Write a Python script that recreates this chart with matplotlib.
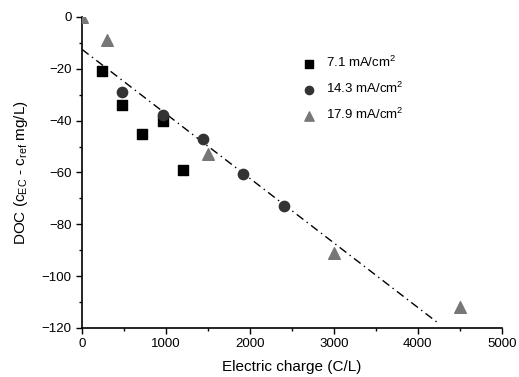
import numpy as np
import matplotlib
matplotlib.use('Agg')
import matplotlib.pyplot as plt

plt.rcParams['font.family'] = ['Liberation Sans', 'DejaVu Sans']
plt.rcParams['mathtext.fontset'] = 'custom'
plt.rcParams['mathtext.rm'] = 'Liberation Sans'
plt.rcParams['mathtext.it'] = 'Liberation Sans:italic'
plt.rcParams['mathtext.default'] = 'regular'

# data
charge_71 = [240, 480, 720, 960, 1200]
doc_71 = [-21, -34, -45, -40, -59]
charge_143 = [480, 960, 1440, 1920, 2400]
doc_143 = [-29, -38, -47, -60.5, -73]
charge_179 = [0, 300, 1500, 3000, 4500]
doc_179 = [0, -9, -53, -91, -112]

# trend line
fit_intercept = -12.5
fit_slope = -0.0249
fit_xmax = 4250

fig = plt.figure(figsize=(5.19, 3.77), dpi=100)
ax = fig.add_axes([0.158, 0.130, 0.809, 0.825])

ax.scatter(charge_71, doc_71, marker='s', s=48, color='black', label='7.1 mA/cm$^2$', zorder=3)
ax.scatter(charge_143, doc_143, marker='o', s=55, color='#333333', label='14.3 mA/cm$^2$', zorder=3)
ax.scatter(charge_179, doc_179, marker='^', s=70, color='#777777', label='17.9 mA/cm$^2$', zorder=3)

xf = np.array([0, fit_xmax])
ax.plot(xf, fit_intercept + fit_slope * xf, color='black', lw=1, linestyle=(0, (6, 3, 1, 3)), zorder=2)

ax.set_xlim(0, 5000)
ax.set_ylim(-120, 0)
ax.set_xticks([0, 1000, 2000, 3000, 4000, 5000])
ax.set_xticks([500, 1500, 2500, 3500, 4500], minor=True)
ax.set_yticks([-120, -100, -80, -60, -40, -20, 0])
ax.set_yticks([-110, -90, -70, -50, -30, -10], minor=True)
ax.tick_params(labelsize=9.5, direction='out', length=4, width=1)
ax.tick_params(which='minor', direction='out', length=2.5, width=1)

for s in ['top', 'right']:
    ax.spines[s].set_visible(False)
for s in ['left', 'bottom']:
    ax.spines[s].set_linewidth(1.2)

ax.set_xlabel('Electric charge (C/L)', fontsize=11, labelpad=7)
ax.set_ylabel('DOC (c$_{EC}$ - c$_{ref}$ mg/L)', fontsize=11, labelpad=8)

ax.legend(loc='upper left', bbox_to_anchor=(0.48, 0.915), frameon=False, fontsize=9.5,
          handletextpad=0.3, labelspacing=0.8, scatterpoints=1, markerscale=0.8)

fig.savefig('out.png', dpi=100)
